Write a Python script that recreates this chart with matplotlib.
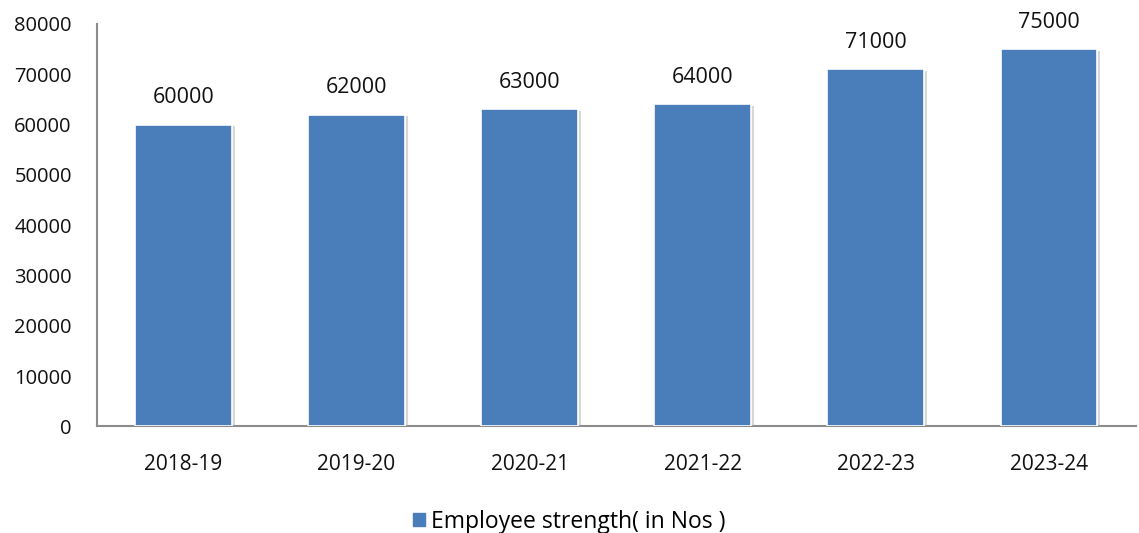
import matplotlib.pyplot as plt
import matplotlib.patheffects as pe
import matplotlib.patches as mpatches

years = ['2018-19', '2019-20', '2020-21', '2021-22', '2022-23', '2023-24']
employees = [60000, 62000, 63000, 64000, 71000, 75000]
series_name = 'Employee strength( in Nos )'

plt.rcParams['font.family'] = ['Open Sans', 'DejaVu Sans']

fig = plt.figure(figsize=(11.39, 5.33), dpi=100)
ax = fig.add_axes([0.085, 0.2, 0.912, 0.755])

bars = ax.bar(years, employees, width=0.56, color='#4a7ebb', edgecolor='white',
              linewidth=1.2, zorder=3)
for b in bars:
    b.set_path_effects([pe.SimplePatchShadow(offset=(2, -1), shadow_rgbFace='#b0b0b0', alpha=0.5),
                        pe.Normal()])

for b, v in zip(bars, employees):
    ax.text(b.get_x() + b.get_width() / 2, v + 3300, str(v), ha='center', va='bottom',
            fontsize=15.5, color='#111111')

ax.set_ylim(0, 80000)
ax.set_yticks(range(0, 80001, 10000))
ax.set_xlim(-0.5, len(years) - 0.5)
ax.spines['top'].set_visible(False)
ax.spines['right'].set_visible(False)
ax.spines['left'].set_color('#8c8c8c')
ax.spines['bottom'].set_color('#8c8c8c')
ax.spines['left'].set_linewidth(1.5)
ax.spines['bottom'].set_linewidth(1.5)
ax.tick_params(axis='both', length=0, colors='#111111')
ax.tick_params(axis='x', pad=20, labelsize=15)
ax.tick_params(axis='y', pad=18, labelsize=14.5)

handle = mpatches.Patch(color='#4a7ebb')
fig.legend(handles=[handle], labels=[series_name], loc='lower center', bbox_to_anchor=(0.5, -0.04),
           frameon=False, fontsize=16.5, handlelength=0.5, handleheight=0.5, handletextpad=0.3)

fig.savefig('out.png', dpi=100)
